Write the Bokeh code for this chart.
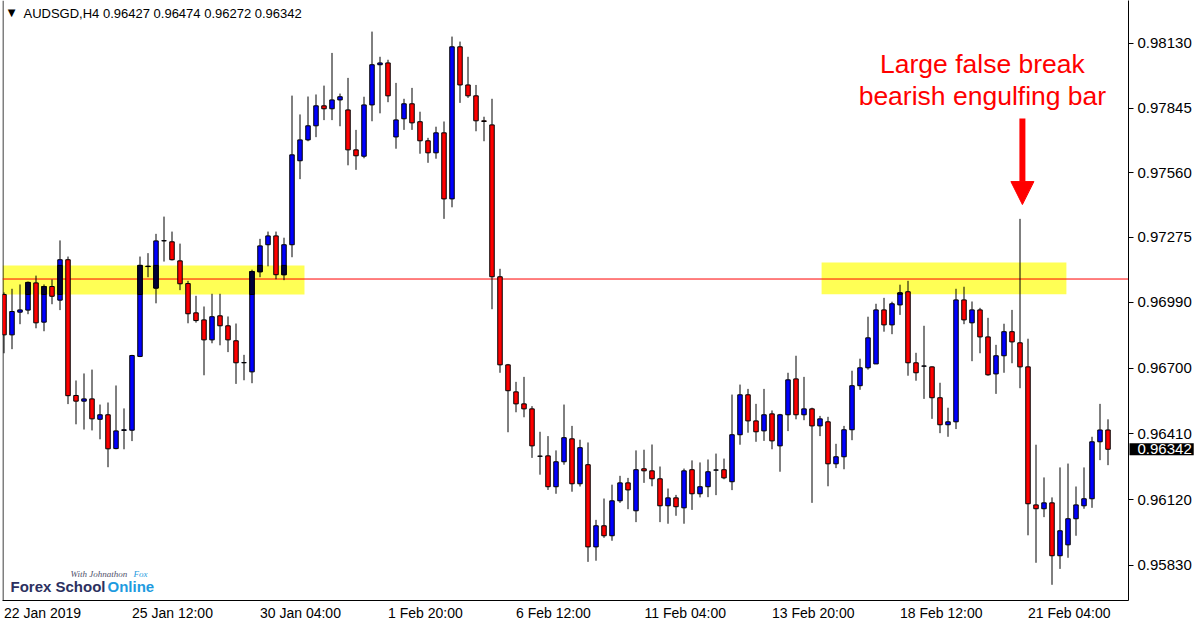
from bokeh.plotting import figure
from bokeh.models import (ColumnDataSource, Range1d, FixedTicker, BoxAnnotation,
                          Label, Arrow, NormalHead)
from bokeh.embed import file_html
from bokeh.resources import INLINE

# ---------------- data (AUDSGD, H4) ----------------
symbol = "AUDSGD,H4"
open_ = [0.97024, 0.96846, 0.96946, 0.96955, 0.97075, 0.96902, 0.97059, 0.96999, 0.97177, 0.96579,
         0.96554, 0.96564, 0.96474, 0.96494, 0.96345, 0.96425, 0.96426, 0.96751, 0.97147, 0.97052,
         0.97260, 0.97256, 0.97172, 0.97072, 0.96943, 0.96912, 0.96824, 0.96930, 0.96886, 0.96820,
         0.96723, 0.96683, 0.97124, 0.97243, 0.97282, 0.97111, 0.97243, 0.97613, 0.97705, 0.97767,
         0.97855, 0.97842, 0.97881, 0.97837, 0.97661, 0.97633, 0.97859, 0.98036, 0.98044, 0.97718,
         0.97798, 0.97864, 0.97785, 0.97701, 0.97648, 0.97736, 0.97445, 0.98115, 0.97947, 0.97899,
         0.97789, 0.97771, 0.97102, 0.96714, 0.96595, 0.96542, 0.96520, 0.96311, 0.96313, 0.96177,
         0.96287, 0.96388, 0.96190, 0.96274, 0.95912, 0.96005, 0.95961, 0.96115, 0.96194, 0.96071,
         0.96256, 0.96247, 0.96212, 0.96093, 0.96128, 0.96084, 0.96252, 0.96146, 0.96177, 0.96250,
         0.96252, 0.96199, 0.96406, 0.96582, 0.96467, 0.96423, 0.96498, 0.96357, 0.96494, 0.96652,
         0.96494, 0.96520, 0.96445, 0.96463, 0.96278, 0.96309, 0.96428, 0.96622, 0.96701, 0.96718,
         0.96956, 0.96890, 0.96978, 0.97036, 0.96723, 0.96708, 0.96705, 0.96569, 0.96450, 0.96463,
         0.97000, 0.96899, 0.96956, 0.96837, 0.96674, 0.96754, 0.96860, 0.96811, 0.96705, 0.96097,
         0.96080, 0.96106, 0.95873, 0.95921, 0.96036, 0.96093, 0.96124, 0.96375, 0.96427]
high_ = [0.97033, 0.97049, 0.97068, 0.97081, 0.97107, 0.97068, 0.97090, 0.97262, 0.97191, 0.96645,
         0.96676, 0.96693, 0.96539, 0.96548, 0.96623, 0.96522, 0.96758, 0.97191, 0.97206, 0.97291,
         0.97367, 0.97301, 0.97248, 0.97084, 0.97018, 0.96971, 0.97027, 0.97027, 0.96927, 0.96896,
         0.96758, 0.97133, 0.97269, 0.97301, 0.97301, 0.97274, 0.97900, 0.97817, 0.97896, 0.97905,
         0.97944, 0.98088, 0.97909, 0.97978, 0.97749, 0.97895, 0.98182, 0.98071, 0.98058, 0.97956,
         0.97886, 0.97934, 0.97829, 0.97714, 0.97763, 0.97786, 0.98160, 0.98138, 0.98071, 0.97947,
         0.97807, 0.97886, 0.97137, 0.96718, 0.96639, 0.96661, 0.96532, 0.96419, 0.96400, 0.96337,
         0.96539, 0.96445, 0.96384, 0.96372, 0.96031, 0.96125, 0.96186, 0.96225, 0.96216, 0.96337,
         0.96340, 0.96363, 0.96266, 0.96169, 0.96141, 0.96257, 0.96293, 0.96284, 0.96297, 0.96323,
         0.96301, 0.96583, 0.96627, 0.96608, 0.96542, 0.96608, 0.96513, 0.96498, 0.96679, 0.96754,
         0.96661, 0.96525, 0.96489, 0.96485, 0.96366, 0.96445, 0.96688, 0.96741, 0.96926, 0.96983,
         0.97009, 0.96992, 0.97067, 0.97084, 0.96767, 0.96886, 0.96707, 0.96635, 0.96525, 0.97049,
         0.97058, 0.96993, 0.96965, 0.96921, 0.96802, 0.96895, 0.96956, 0.97357, 0.96829, 0.96362,
         0.96218, 0.96130, 0.96262, 0.96279, 0.96178, 0.96262, 0.96397, 0.96542, 0.96474]
low_ = [0.96765, 0.96783, 0.96893, 0.96937, 0.96875, 0.96862, 0.96981, 0.96955, 0.96541, 0.96452,
        0.96429, 0.96425, 0.96386, 0.96263, 0.96342, 0.96342, 0.96378, 0.96748, 0.97100, 0.96985,
        0.97169, 0.97174, 0.97043, 0.96897, 0.96900, 0.96668, 0.96809, 0.96800, 0.96770, 0.96630,
        0.96646, 0.96633, 0.97100, 0.97148, 0.97091, 0.97087, 0.97188, 0.97532, 0.97699, 0.97717,
        0.97792, 0.97792, 0.97765, 0.97593, 0.97573, 0.97624, 0.97787, 0.97822, 0.97871, 0.97666,
        0.97749, 0.97749, 0.97644, 0.97604, 0.97622, 0.97357, 0.97408, 0.97868, 0.97890, 0.97743,
        0.97699, 0.96959, 0.96679, 0.96417, 0.96505, 0.96483, 0.96304, 0.96230, 0.96163, 0.96146,
        0.96274, 0.96155, 0.96178, 0.95846, 0.95851, 0.95952, 0.95939, 0.96106, 0.96078, 0.96021,
        0.96194, 0.96179, 0.96021, 0.96014, 0.96049, 0.96014, 0.96075, 0.96130, 0.96131, 0.96140,
        0.96210, 0.96162, 0.96362, 0.96415, 0.96375, 0.96379, 0.96342, 0.96243, 0.96422, 0.96474,
        0.96470, 0.96106, 0.96400, 0.96179, 0.96259, 0.96254, 0.96382, 0.96604, 0.96693, 0.96718,
        0.96860, 0.96849, 0.96934, 0.96666, 0.96644, 0.96564, 0.96476, 0.96413, 0.96397, 0.96431,
        0.96893, 0.96730, 0.96765, 0.96666, 0.96586, 0.96679, 0.96721, 0.96611, 0.95963, 0.95842,
        0.96043, 0.95745, 0.95815, 0.95864, 0.95961, 0.96080, 0.96084, 0.96294, 0.96272]
close_ = [0.96846, 0.96949, 0.96956, 0.97077, 0.96899, 0.97059, 0.97016, 0.97177, 0.96578, 0.96554,
          0.96564, 0.96476, 0.96494, 0.96344, 0.96423, 0.96428, 0.96755, 0.97152, 0.97148, 0.97260,
          0.97261, 0.97177, 0.97071, 0.96939, 0.96909, 0.96824, 0.96926, 0.96886, 0.96824, 0.96723,
          0.96724, 0.97125, 0.97238, 0.97282, 0.97111, 0.97243, 0.97639, 0.97705, 0.97767, 0.97855,
          0.97842, 0.97881, 0.97895, 0.97661, 0.97635, 0.97859, 0.98036, 0.98044, 0.97899, 0.97793,
          0.97864, 0.97780, 0.97701, 0.97648, 0.97736, 0.97445, 0.98115, 0.97947, 0.97899, 0.97789,
          0.97786, 0.97102, 0.96714, 0.96600, 0.96542, 0.96520, 0.96357, 0.96312, 0.96177, 0.96287,
          0.96393, 0.96190, 0.96349, 0.95912, 0.96005, 0.95961, 0.96115, 0.96194, 0.96163, 0.96252,
          0.96247, 0.96212, 0.96093, 0.96128, 0.96089, 0.96247, 0.96146, 0.96177, 0.96243, 0.96251,
          0.96216, 0.96406, 0.96582, 0.96467, 0.96419, 0.96494, 0.96379, 0.96494, 0.96648, 0.96494,
          0.96520, 0.96445, 0.96476, 0.96278, 0.96309, 0.96428, 0.96622, 0.96701, 0.96833, 0.96956,
          0.96890, 0.96983, 0.97031, 0.96723, 0.96679, 0.96709, 0.96569, 0.96450, 0.96463, 0.97000,
          0.96912, 0.96956, 0.96837, 0.96670, 0.96754, 0.96860, 0.96815, 0.96705, 0.96102, 0.96080,
          0.96106, 0.95873, 0.95983, 0.96036, 0.96097, 0.96124, 0.96375, 0.96427, 0.96342]

x_tick_bars = [0, 16, 32, 48, 64, 80, 96, 112, 128]
x_tick_labels = ["22 Jan 2019", "25 Jan 12:00", "30 Jan 04:00", "1 Feb 20:00", "6 Feb 12:00",
                 "11 Feb 04:00", "13 Feb 20:00", "18 Feb 12:00", "21 Feb 04:00"]
y_ticks = [0.98130, 0.97845, 0.97560, 0.97275, 0.96990, 0.96700, 0.96410, 0.96120, 0.95830]
y_tick_labels = ["0.98130", "0.97845", "0.97560", "0.97275", "0.96990", "0.96700",
                 "0.96410", "0.96120", "0.95830"]

level_price = 0.97092
zone_left = {"bar_from": -1.0, "bar_to": 37.56, "low": 0.97024, "high": 0.97152}
zone_right = {"bar_from": 102.2, "bar_to": 132.8, "low": 0.97025, "high": 0.97165}
note_lines = ["Large false break", "bearish engulfing bar"]
note_bar = 127

# ---------------- build ----------------
idx = list(range(len(open_)))
bull, bear = "#0000ff", "#ff0000"
tops = [max(a, b) for a, b in zip(open_, close_)]
bots = [min(a, b) for a, b in zip(open_, close_)]
src = ColumnDataSource(dict(
    x=idx, o=open_, h=high_, l=low_, c=close_, top=tops, bottom=bots,
    color=[bull if c >= o else bear for o, c in zip(open_, close_)],
))

# parts of bull bodies lying inside a highlighted zone are shown darkened (as the platform does)
dx, dtop, dbot = [], [], []
for z in (zone_left, zone_right):
    for i in idx:
        if close_[i] >= open_[i] and z["bar_from"] < i < z["bar_to"]:
            t, b = min(tops[i], z["high"]), max(bots[i], z["low"])
            if t > b:
                dx.append(i); dtop.append(t); dbot.append(b)
dark_src = ColumnDataSource(dict(x=dx, top=dtop, bottom=dbot))

X0, X1 = -0.1875, 140.5625
PX_PER_BAR = 8.0
p = figure(frame_width=1126, frame_height=600,
           x_range=Range1d(X0, X1), y_range=Range1d(0.956758, 0.983190),
           y_axis_location="right", output_backend="svg", toolbar_location=None,
           min_border_left=2, min_border_right=0, min_border_top=0, min_border_bottom=0)
p.background_fill_color = "white"
p.border_fill_color = "white"
p.outline_line_color = None
p.xgrid.visible = False
p.ygrid.visible = False

AX_FONT = "Liberation Sans"
X_FONT_PX = 14
# Arial-compatible advance widths (em) used to left-align the date labels at their bar
ADV = {" ": 0.278, ":": 0.278, "J": 0.5, "a": 0.556, "n": 0.556, "F": 0.611,
       "e": 0.556, "b": 0.556}
def _width_px(s):
    return sum(ADV.get(ch, 0.556) for ch in s) * X_FONT_PX

x_tick_pos = [round(b + _width_px(t) / 2.0 / PX_PER_BAR, 3) for b, t in zip(x_tick_bars, x_tick_labels)]
p.xaxis.ticker = FixedTicker(ticks=x_tick_pos)
p.xaxis.major_label_overrides = {pos: t for pos, t in zip(x_tick_pos, x_tick_labels)}
p.xaxis.major_label_text_font = AX_FONT
p.xaxis.major_label_text_font_size = f"{X_FONT_PX}px"
p.xaxis.major_label_text_color = "black"
p.xaxis.major_tick_out = 3
p.xaxis.major_tick_in = 0
p.xaxis.major_tick_line_color = None
p.xaxis.minor_tick_line_color = None
p.xaxis.major_label_standoff = 1
p.xaxis.axis_line_color = "black"

p.yaxis.ticker = FixedTicker(ticks=y_ticks)
p.yaxis.major_label_overrides = {t: s for t, s in zip(y_ticks, y_tick_labels)}
p.yaxis.major_label_text_font = AX_FONT
p.yaxis.major_label_text_font_size = "15px"
p.yaxis.major_label_text_color = "black"
p.yaxis.major_tick_out = 5
p.yaxis.major_tick_in = 0
p.yaxis.minor_tick_line_color = None
p.yaxis.major_label_standoff = 4
p.yaxis.axis_line_color = "black"

# left border of the chart window
p.segment(x0=[X0 + 0.5 / PX_PER_BAR], x1=[X0 + 0.5 / PX_PER_BAR],
          y0=[p.y_range.start], y1=[p.y_range.end], line_color="black", line_width=1)

# support / resistance zones and level
p.add_layout(BoxAnnotation(right=zone_left["bar_to"], bottom=zone_left["low"], top=zone_left["high"],
                           fill_color="#ffff55", fill_alpha=1, line_alpha=0, level="underlay"))
p.add_layout(BoxAnnotation(left=zone_right["bar_from"], right=zone_right["bar_to"],
                           bottom=zone_right["low"], top=zone_right["high"],
                           fill_color="#ffff55", fill_alpha=1, line_alpha=0, level="underlay"))
p.segment(x0=[X0], x1=[X1], y0=[level_price], y1=[level_price],
          line_color="#ff0000", line_width=1)

# candles
p.segment(x0="x", y0="l", x1="x", y1="h", source=src, line_color="black", line_width=1)
p.vbar(x="x", width=0.56, top="top", bottom="bottom", source=src,
       fill_color="color", line_color="black", line_width=1)
p.vbar(x="x", width=0.56, top="top", bottom="bottom", source=dark_src,
       fill_color="#00003c", line_color="black", line_width=1)

# header
p.add_layout(Label(x=9, y=588, x_units="screen", y_units="screen", text="\u25BC",
                   text_font="DejaVu Sans", text_font_size="10px", text_color="black",
                   text_align="center", text_baseline="middle"))
header = f"{symbol}  {open_[-1]:.5f} {high_[-1]:.5f} {low_[-1]:.5f} {close_[-1]:.5f}"
p.add_layout(Label(x=21, y=586.7, x_units="screen", y_units="screen", text=header,
                   text_font=AX_FONT, text_font_size="13px", text_color="black",
                   text_baseline="alphabetic"))

# current price tag on the price scale (placed in the side panel so it is not clipped)
tag = Label(x=X1, y=close_[-1], text=f"{close_[-1]:.5f}", x_offset=1,
            text_font=AX_FONT, text_font_size="15px", text_color="white",
            text_baseline="middle", text_align="left",
            background_fill_color="black", padding=(1, 5))
try:
    tag.padding = dict(left=8, right=2, top=1, bottom=1)
except Exception:
    try:
        tag.padding = (8, 2, 1, 1)
    except Exception:
        pass
p.add_layout(tag, "right")

# annotation text and arrow
for line_txt, y_base in zip(note_lines, [0.98041, 0.97900]):
    p.add_layout(Label(x=note_bar - 4.7, y=y_base, text=line_txt, text_align="center",
                       text_baseline="alphabetic", text_font=AX_FONT,
                       text_font_size="26.5px", text_color="#ff0000"))
p.add_layout(Arrow(end=NormalHead(size=23, fill_color="#ff0000", line_color="#ff0000", line_width=1),
                   x_start=note_bar + 0.3, y_start=0.97799, x_end=note_bar + 0.3, y_end=0.97420,
                   line_color="#ff0000", line_width=6))

# logo
p.add_layout(Label(x=8, y=14.3, x_units="screen", y_units="screen", text="Forex School",
                   text_font=AX_FONT, text_font_style="bold", text_font_size="15px",
                   text_color="#2c3060", text_baseline="alphabetic"))
p.add_layout(Label(x=105, y=14.3, x_units="screen", y_units="screen", text="Online",
                   text_font=AX_FONT, text_font_style="bold", text_font_size="15px",
                   text_color="#1e9be0", text_baseline="alphabetic"))
p.add_layout(Label(x=68, y=27, x_units="screen", y_units="screen", text="With Johnathon",
                   text_font="Liberation Serif", text_font_style="italic", text_font_size="9px",
                   text_color="#50506a", text_baseline="alphabetic"))
p.add_layout(Label(x=131, y=27, x_units="screen", y_units="screen", text="Fox",
                   text_font="Liberation Serif", text_font_style="italic", text_font_size="9px",
                   text_color="#1e9be0", text_baseline="alphabetic"))

open("out.html", "w").write(file_html(p, INLINE))
